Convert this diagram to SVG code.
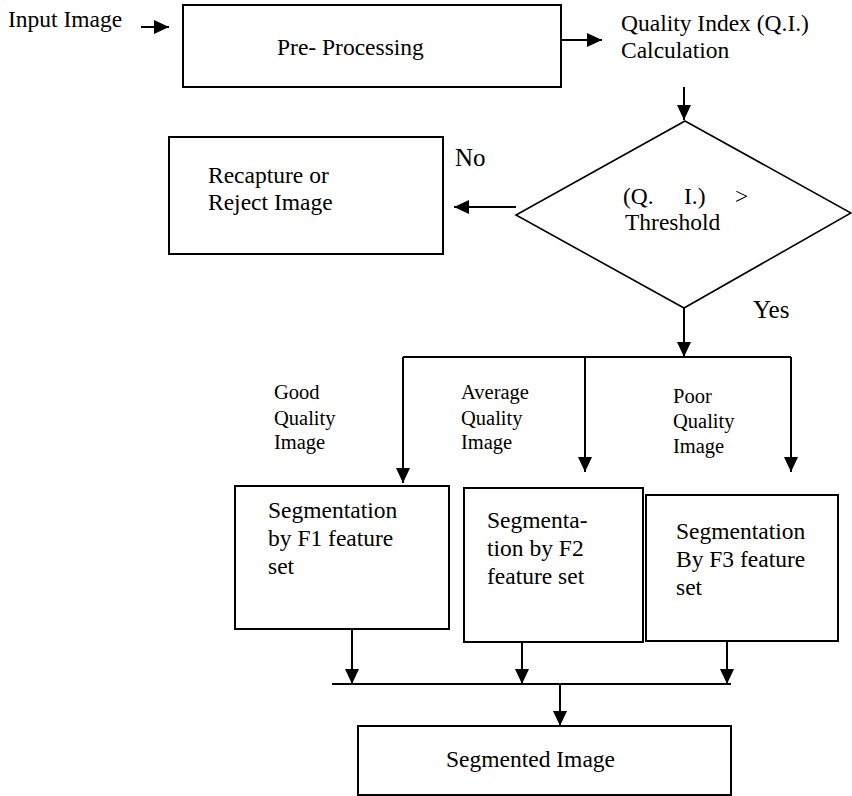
<svg xmlns="http://www.w3.org/2000/svg" width="852" height="796" viewBox="0 0 852 796">
<style>
  .t { font-size: 23.5px; }
  .lbl { font-size: 20.5px; }
  .yn { font-size: 25px; }
  .box { fill: #fff; stroke: #000; stroke-width: 2; }
  .dia { fill: #fff; stroke: #000; stroke-width: 1.6; }
  .c { fill: none; stroke: #000; stroke-width: 2; }
</style>
<defs>
  <marker id="ah" markerUnits="userSpaceOnUse" markerWidth="15" markerHeight="14" viewBox="0 0 15 14" refX="15" refY="7" orient="auto">
    <path d="M0,0 L15,7 L0,14 z" fill="#000"/>
  </marker>
</defs>
<g font-family="'Liberation Serif', 'DejaVu Serif', serif" fill="#000">

<g id="input-label">
  <text class="t" x="8" y="27">Input Image</text>
</g>

<g id="preprocessing">
  <rect class="box" x="183" y="5" width="378" height="82"/>
  <text class="t" x="277" y="55">Pre- Processing</text>
</g>

<g id="qi-calc">
  <text class="t" x="621" y="31">Quality Index (Q.I.)</text>
  <text class="t" x="621" y="58">Calculation</text>
</g>

<g id="decision">
  <polygon class="dia" points="685,121 851,213 684,308 516,215"/>
  <text class="t" x="623" y="204">(Q.</text>
  <text class="t" x="684" y="204">I.)</text>
  <text class="t" x="735" y="204">&gt;</text>
  <text class="t" x="625" y="230">Threshold</text>
</g>

<g id="recapture">
  <rect class="box" x="169" y="137" width="274" height="117"/>
  <text class="t" x="208" y="183">Recapture or</text>
  <text class="t" x="208" y="210">Reject Image</text>
</g>

<g id="label-no"><text class="yn" x="455" y="166">No</text></g>
<g id="label-yes"><text class="yn" x="753" y="318">Yes</text></g>

<g id="label-good">
  <text class="lbl" x="274" y="399">Good</text>
  <text class="lbl" x="274" y="425">Quality</text>
  <text class="lbl" x="274" y="449">Image</text>
</g>
<g id="label-average">
  <text class="lbl" x="461" y="399">Average</text>
  <text class="lbl" x="461" y="425">Quality</text>
  <text class="lbl" x="461" y="449">Image</text>
</g>
<g id="label-poor">
  <text class="lbl" x="673" y="403">Poor</text>
  <text class="lbl" x="673" y="428">Quality</text>
  <text class="lbl" x="673" y="453">Image</text>
</g>

<g id="seg-f1">
  <rect class="box" x="235" y="486" width="214" height="143"/>
  <text class="t" x="268" y="518">Segmentation</text>
  <text class="t" x="268" y="546">by F1 feature</text>
  <text class="t" x="268" y="574">set</text>
</g>
<g id="seg-f2">
  <rect class="box" x="464" y="488" width="179" height="154"/>
  <text class="t" x="487" y="528">Segmenta-</text>
  <text class="t" x="487" y="556">tion by F2</text>
  <text class="t" x="487" y="584">feature set</text>
</g>
<g id="seg-f3">
  <rect class="box" x="646" y="495" width="192" height="146"/>
  <text class="t" x="676" y="539">Segmentation</text>
  <text class="t" x="676" y="567">By F3 feature</text>
  <text class="t" x="676" y="595">set</text>
</g>

<g id="segmented">
  <rect class="box" x="358" y="726" width="373" height="69"/>
  <text class="t" x="446" y="767">Segmented Image</text>
</g>
</g>

<g id="connectors">
  <line class="c" x1="141" y1="27" x2="169" y2="27" marker-end="url(#ah)"/>
  <line class="c" x1="561" y1="40" x2="602" y2="40" marker-end="url(#ah)"/>
  <line class="c" x1="684" y1="87" x2="684" y2="120" marker-end="url(#ah)"/>
  <line class="c" x1="516" y1="207" x2="454" y2="207" marker-end="url(#ah)"/>
  <line class="c" x1="684" y1="308" x2="684" y2="357" marker-end="url(#ah)"/>
  <polyline class="c" points="403,357 791,357"/>
  <line class="c" x1="403" y1="357" x2="403" y2="483" marker-end="url(#ah)"/>
  <line class="c" x1="791" y1="357" x2="791" y2="472" marker-end="url(#ah)"/>
  <line class="c" x1="585" y1="357" x2="585" y2="472" marker-end="url(#ah)"/>
  <line class="c" x1="352" y1="629" x2="352" y2="684" marker-end="url(#ah)"/>
  <line class="c" x1="522" y1="642" x2="522" y2="684" marker-end="url(#ah)"/>
  <line class="c" x1="727" y1="641" x2="727" y2="684" marker-end="url(#ah)"/>
  <line class="c" x1="332" y1="684" x2="731" y2="684"/>
  <line class="c" x1="560" y1="684" x2="560" y2="726" marker-end="url(#ah)"/>
</g>
</svg>
